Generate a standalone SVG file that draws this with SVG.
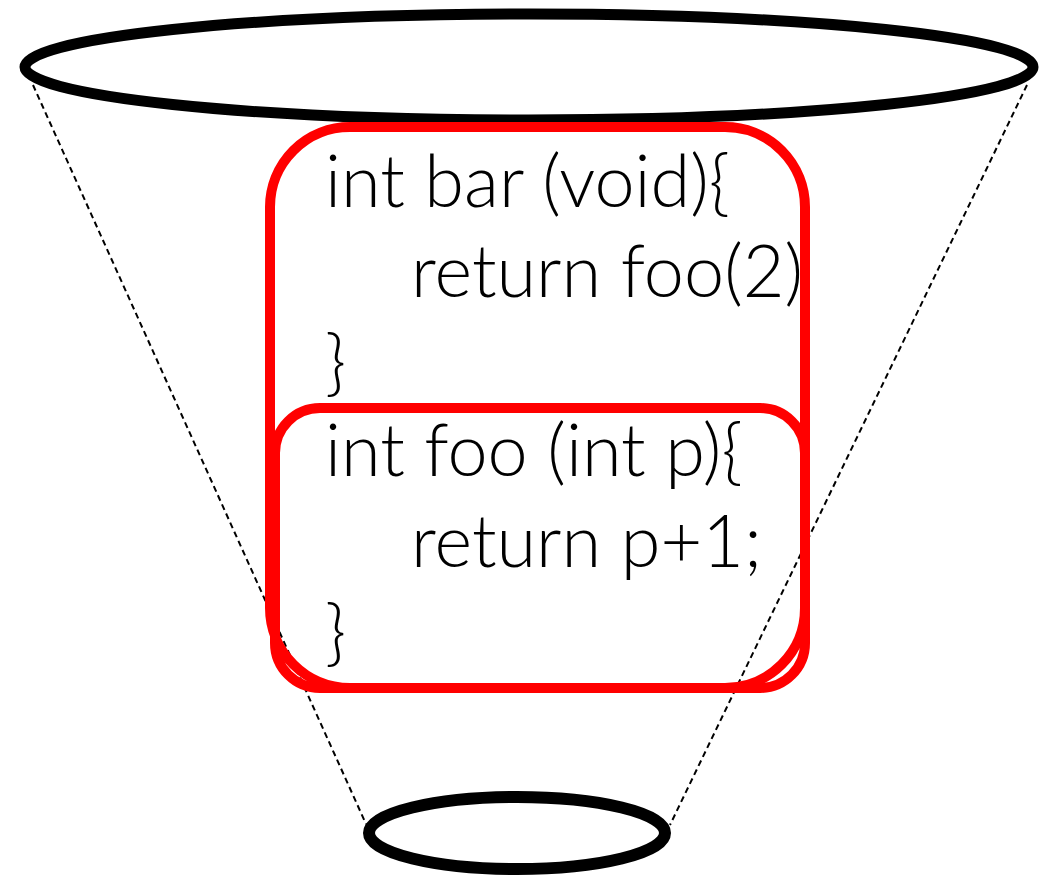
<svg xmlns="http://www.w3.org/2000/svg" width="1041" height="877" viewBox="0 0 1041 877">
<style>
.rim{fill:none;stroke:#000;stroke-width:11}
.edge{fill:none;stroke:#000;stroke-width:2;stroke-dasharray:6 4}
.box{fill:none;stroke:#ff0000;stroke-width:10}
.code{font-family:Lato,"Liberation Sans",sans-serif;font-weight:300;font-size:72px;fill:#000}
</style>
<rect width="1041" height="877" fill="#fff"/>
<g id="connectors">
<line class="edge" x1="33" y1="85" x2="366" y2="824"/>
<line class="edge" x1="1027" y1="85" x2="670" y2="825"/>
</g>
<g id="top-rim">
<ellipse class="rim" cx="529" cy="67" rx="504" ry="53"/>
</g>
<g id="bottom-rim">
<ellipse class="rim" cx="517" cy="833" rx="148" ry="36" style="stroke-width:12"/>
</g>
<g id="bar-box">
<rect class="box" x="270" y="127" width="535" height="561" rx="80" ry="80"/>
<text class="code" x="325" y="207">int bar (void){</text>
<text class="code" x="411" y="297">return foo(2)</text>
<text class="code" x="325" y="387">}</text>
</g>
<g id="foo-box">
<rect class="box" x="275" y="408" width="530" height="280" rx="45" ry="45"/>
<text class="code" x="325" y="476">int foo (int p){</text>
<text class="code" x="411" y="567">return p+1;</text>
<text class="code" x="325" y="657">}</text>
</g>
</svg>
